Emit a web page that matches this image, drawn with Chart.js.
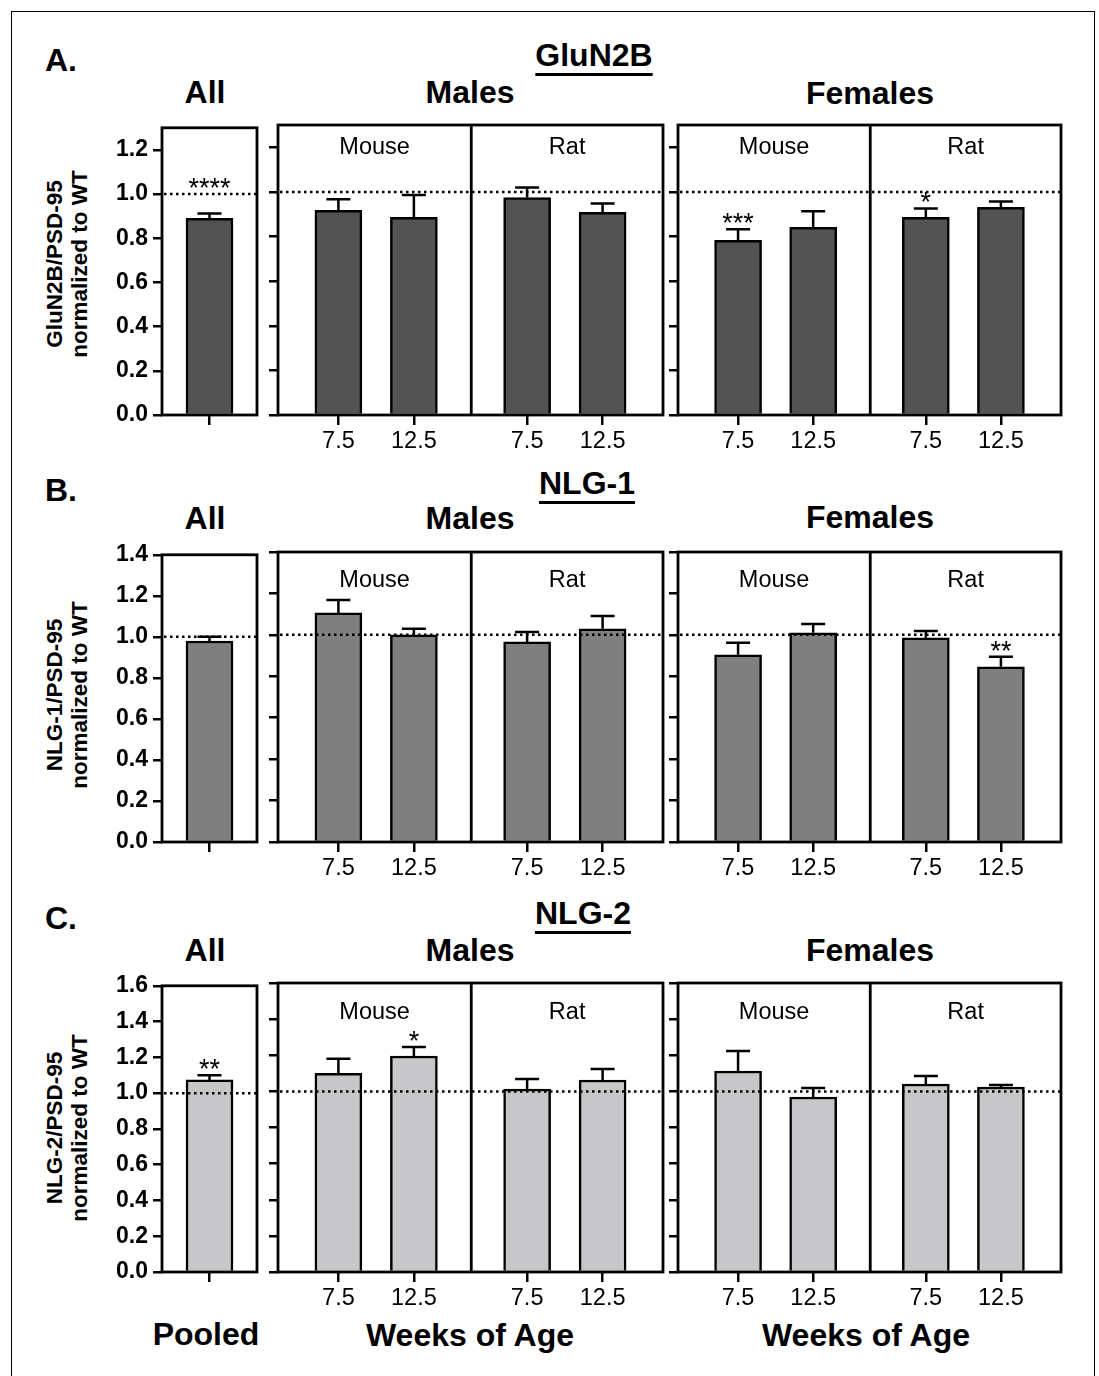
<!DOCTYPE html>
<html>
<head>
<meta charset="utf-8">
<script src="https://cdn.jsdelivr.net/npm/chart.js@4.4.1/dist/chart.umd.min.js"></script>
<style>
  body { margin: 0; background: #fff; width: 1099px; height: 1376px; overflow: hidden; position: relative;
         font-family: "Liberation Sans", Arial, sans-serif; color: #000; }
  .frame { position: absolute; left: 11px; top: 11px; width: 1082px; height: 1420px; border: 1.5px solid #000; border-bottom: none; }
  .t { position: absolute; transform: translate(-50%, -50%); line-height: 1; font-weight: bold; font-size: 32px; white-space: nowrap; }
  .letter { position: absolute; transform: translateY(-50%); line-height: 1; font-weight: bold; font-size: 32px; }
  .u { text-decoration: underline; text-decoration-thickness: 3px; text-underline-offset: 7px; }
  .ytitle { position: absolute; transform: translate(-50%, -50%) rotate(-90deg); font-weight: bold; font-size: 22.5px;
            line-height: 25px; text-align: center; white-space: nowrap; }
  canvas { position: absolute; }
</style>
</head>
<body>
<div class="frame"></div>

<div class="letter" style="left:45px;top:60px">A.</div>
<div class="t u" style="left:594px;top:55px">GluN2B</div>
<div class="t" style="left:205px;top:92px">All</div>
<div class="t" style="left:470px;top:92px">Males</div>
<div class="t" style="left:870px;top:93px">Females</div>
<div class="ytitle" style="left:67px;top:264px">GluN2B/PSD-95<br>normalized to WT</div>

<div class="letter" style="left:45px;top:490px">B.</div>
<div class="t u" style="left:587px;top:483px">NLG-1</div>
<div class="t" style="left:205px;top:518px">All</div>
<div class="t" style="left:470px;top:518px">Males</div>
<div class="t" style="left:870px;top:517px">Females</div>
<div class="ytitle" style="left:67px;top:695px">NLG-1/PSD-95<br>normalized to WT</div>

<div class="letter" style="left:45px;top:918px">C.</div>
<div class="t u" style="left:583px;top:913px">NLG-2</div>
<div class="t" style="left:205px;top:950px">All</div>
<div class="t" style="left:470px;top:950px">Males</div>
<div class="t" style="left:870px;top:950px">Females</div>
<div class="ytitle" style="left:67px;top:1128px">NLG-2/PSD-95<br>normalized to WT</div>

<div class="t" style="left:206px;top:1334px">Pooled</div>
<div class="t" style="left:470px;top:1335px">Weeks of Age</div>
<div class="t" style="left:866px;top:1335px">Weeks of Age</div>

<script>
// categories
const weeks = ['7.5', '12.5', '7.5', '12.5'];
const species = ['Mouse', 'Rat'];
const yMax = [1.3, 1.4, 1.6];
const refLevel = 1.0;

// GluN2B/PSD-95 (mean, SEM)
const gluPooled = [0.89];
const gluPooledErr = [0.022];
const gluPooledSig = ['****'];
const gluMales = [0.917, 0.886, 0.975, 0.908];
const gluMalesErr = [0.05, 0.10, 0.045, 0.04];
const gluMalesSig = ['', '', '', ''];
const gluFemales = [0.783, 0.841, 0.886, 0.931];
const gluFemalesErr = [0.05, 0.072, 0.04, 0.026];
const gluFemalesSig = ['***', '', '*', ''];

// NLG-1/PSD-95
const nlg1Pooled = [0.98];
const nlg1PooledErr = [0.02];
const nlg1PooledSig = [''];
const nlg1Males = [1.106, 1.0, 0.966, 1.029];
const nlg1MalesErr = [0.062, 0.029, 0.048, 0.062];
const nlg1MalesSig = ['', '', '', ''];
const nlg1Females = [0.904, 1.01, 0.986, 0.846];
const nlg1FemalesErr = [0.058, 0.043, 0.033, 0.048];
const nlg1FemalesSig = ['', '', '', '**'];

// NLG-2/PSD-95
const nlg2Pooled = [1.074];
const nlg2PooledErr = [0.026];
const nlg2PooledSig = ['**'];
const nlg2Males = [1.10, 1.196, 1.013, 1.063];
const nlg2MalesErr = [0.08, 0.05, 0.056, 0.061];
const nlg2MalesSig = ['', '*', '', ''];
const nlg2Females = [1.113, 0.969, 1.041, 1.024];
const nlg2FemalesErr = [0.111, 0.05, 0.044, 0.011];
const nlg2FemalesSig = ['', '', '', ''];

const FONT = '"Liberation Sans", Arial, sans-serif';

// layout
const rows = [
  { top: 125, bottom: 415, color: '#535353', speciesDy: 23 },
  { top: 552, bottom: 842, color: '#7f7f7f', speciesDy: 29 },
  { top: 983, bottom: 1272, color: '#c7c7c9', speciesDy: 30 }
];
const panels = { pooled: { l: 162, r: 257 }, males: { l: 278, r: 663 }, females: { l: 678, r: 1061 } };
// mouse pair, a gap, then rat pair
const xPos = weeks.map((w, i) => i + (i >= 2 ? 0.5 : 0));

// error bars, WT reference line, frame, divider, species + significance labels
const decor = {
  id: 'decor',
  afterDatasetsDraw(chart, args, o) {
    const { ctx, chartArea: a, scales: { x, y } } = chart;
    const meta = chart.getDatasetMeta(0);
    ctx.save();
    ctx.strokeStyle = '#000';
    ctx.fillStyle = '#000';
    ctx.lineWidth = 2.5;
    o.vals.forEach((v, i) => {
      const cx = meta.data[i].x;
      const y0 = y.getPixelForValue(v), y1 = y.getPixelForValue(v + o.errs[i]);
      ctx.beginPath();
      ctx.moveTo(cx, y0); ctx.lineTo(cx, y1);
      ctx.moveTo(cx - 12, y1); ctx.lineTo(cx + 12, y1);
      ctx.stroke();
    });

    const yr = y.getPixelForValue(refLevel);
    ctx.setLineDash([2.5, 3.5]);
    ctx.beginPath(); ctx.moveTo(a.left + 2, yr); ctx.lineTo(a.right, yr); ctx.stroke();
    ctx.setLineDash([]);

    ctx.lineWidth = 2.8;
    ctx.strokeRect(a.left, a.top, a.right - a.left, a.bottom - a.top);

    if (o.grouped) {
      const xd = x.getPixelForValue(1.76);
      ctx.beginPath(); ctx.moveTo(xd, a.top); ctx.lineTo(xd, a.bottom); ctx.stroke();
      ctx.font = '23.5px ' + FONT;
      ctx.textAlign = 'center';
      ctx.textBaseline = 'middle';
      ctx.fillText(species[0], (a.left + xd) / 2, a.top + o.speciesDy);
      ctx.fillText(species[1], (xd + a.right) / 2, a.top + o.speciesDy);
    }

    ctx.font = '27px ' + FONT;
    ctx.textAlign = 'center';
    ctx.textBaseline = 'alphabetic';
    o.sig.forEach((s, i) => {
      if (!s) return;
      let lvl = o.vals[i] + o.errs[i];
      if (!o.grouped) lvl = Math.max(lvl, refLevel);
      ctx.fillText(s, meta.data[i].x, y.getPixelForValue(lvl) + 3);
    });
    ctx.restore();
  }
};

function makeChart(row, ri, p, vals, errs, sig, grouped) {
  const axisW = grouped ? 12 : 62, padTop = 16, padRight = 4, xAxisH = 46;
  const w = axisW + (p.r - p.l) + padRight;
  const h = padTop + (row.bottom - row.top) + xAxisH;
  const cv = document.createElement('canvas');
  cv.width = w; cv.height = h;
  cv.style.left = (p.l - axisW) + 'px';
  cv.style.top = (row.top - padTop) + 'px';
  cv.style.width = w + 'px';
  cv.style.height = h + 'px';
  document.body.appendChild(cv);

  const pos = grouped ? xPos : [0];
  const labels = grouped ? weeks : [''];

  new Chart(cv, {
    type: 'bar',
    data: {
      datasets: [{
        data: vals.map((v, i) => ({ x: pos[i], y: v })),
        backgroundColor: row.color,
        borderColor: '#000',
        borderWidth: 2.5,
        borderSkipped: 'start',
        barThickness: 47
      }]
    },
    options: {
      responsive: false,
      animation: false,
      devicePixelRatio: 1,
      layout: { padding: { top: padTop, right: padRight, left: 0, bottom: 0 } },
      plugins: {
        legend: { display: false },
        tooltip: { enabled: false },
        decor: { vals, errs, sig, grouped, speciesDy: row.speciesDy }
      },
      scales: {
        x: {
          type: 'linear',
          min: grouped ? -0.8 : -1,
          max: grouped ? 4.3 : 1,
          offset: false,
          afterFit: s => { s.height = xAxisH; },
          afterBuildTicks: s => { s.ticks = pos.map(v => ({ value: v })); },
          border: { display: false },
          grid: { offset: false, drawOnChartArea: false, tickLength: 10, color: '#000', lineWidth: 2.5 },
          ticks: {
            autoSkip: false, maxRotation: 0, padding: 2, color: '#000',
            font: { family: FONT, size: 23.5 },
            callback: (v, i) => labels[i]
          }
        },
        y: {
          min: 0,
          max: yMax[ri],
          afterFit: s => { s.width = axisW; },
          border: { display: false },
          grid: { drawOnChartArea: false, tickLength: 9, color: '#000', lineWidth: 2.5 },
          ticks: {
            display: !grouped, stepSize: 0.2, includeBounds: false, padding: 5, color: '#000',
            font: { family: FONT, size: 23, weight: 'bold' },
            callback: v => v.toFixed(1)
          }
        }
      }
    },
    plugins: [decor]
  });
}

const table = [
  [[gluPooled, gluPooledErr, gluPooledSig], [gluMales, gluMalesErr, gluMalesSig], [gluFemales, gluFemalesErr, gluFemalesSig]],
  [[nlg1Pooled, nlg1PooledErr, nlg1PooledSig], [nlg1Males, nlg1MalesErr, nlg1MalesSig], [nlg1Females, nlg1FemalesErr, nlg1FemalesSig]],
  [[nlg2Pooled, nlg2PooledErr, nlg2PooledSig], [nlg2Males, nlg2MalesErr, nlg2MalesSig], [nlg2Females, nlg2FemalesErr, nlg2FemalesSig]]
];

rows.forEach((row, ri) => {
  const [pooled, males, females] = table[ri];
  makeChart(row, ri, panels.pooled, ...pooled, false);
  makeChart(row, ri, panels.males, ...males, true);
  makeChart(row, ri, panels.females, ...females, true);
});
</script>
</body>
</html>
